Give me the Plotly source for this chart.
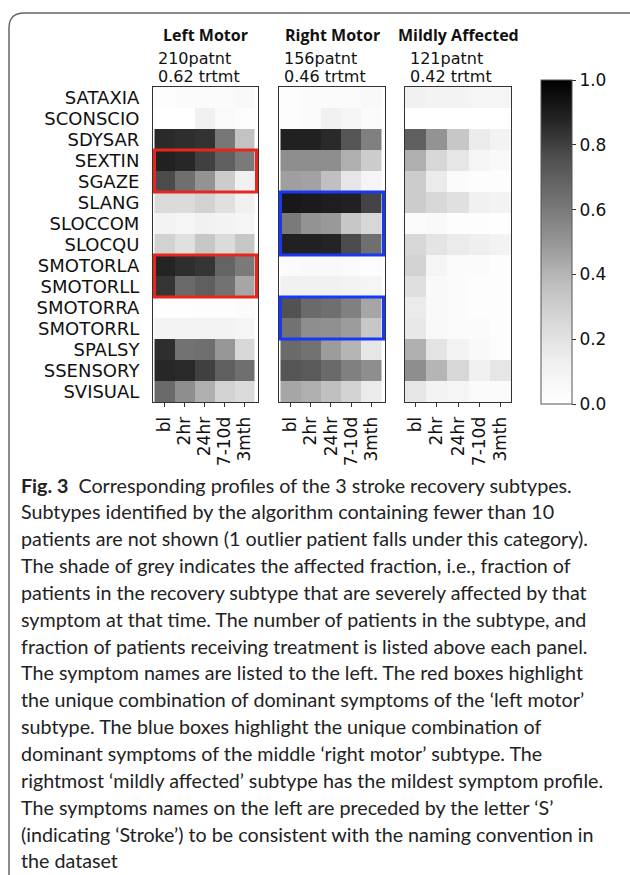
import plotly.graph_objects as go

W, H = 630, 875

symptoms = ["SATAXIA", "SCONSCIO", "SDYSAR", "SEXTIN", "SGAZE", "SLANG", "SLOCCOM",
            "SLOCQU", "SMOTORLA", "SMOTORLL", "SMOTORRA", "SMOTORRL", "SPALSY",
            "SSENSORY", "SVISUAL"]
timepoints = ["bl", "2hr", "24hr", "7-10d", "3mth"]

panel_titles = ["Left Motor", "Right Motor", "Mildly Affected"]
n_patients = [210, 156, 121]
frac_treated = [0.62, 0.46, 0.42]

left_motor = [
    [0.02, 0.03, 0.03, 0.03, 0.05],
    [0.00, 0.00, 0.12, 0.04, 0.02],
    [0.86, 0.85, 0.84, 0.61, 0.35],
    [0.89, 0.87, 0.80, 0.70, 0.60],
    [0.77, 0.64, 0.51, 0.31, 0.12],
    [0.24, 0.24, 0.28, 0.21, 0.12],
    [0.10, 0.08, 0.12, 0.10, 0.08],
    [0.28, 0.21, 0.33, 0.24, 0.33],
    [0.88, 0.85, 0.83, 0.68, 0.60],
    [0.83, 0.66, 0.70, 0.63, 0.45],
    [0.01, 0.01, 0.02, 0.02, 0.03],
    [0.10, 0.10, 0.10, 0.10, 0.08],
    [0.85, 0.63, 0.64, 0.50, 0.26],
    [0.87, 0.86, 0.80, 0.70, 0.64],
    [0.66, 0.53, 0.42, 0.28, 0.24],
]
right_motor = [
    [0.02, 0.03, 0.03, 0.03, 0.05],
    [0.02, 0.03, 0.12, 0.08, 0.03],
    [0.89, 0.89, 0.86, 0.74, 0.58],
    [0.53, 0.53, 0.53, 0.42, 0.31],
    [0.47, 0.46, 0.36, 0.18, 0.08],
    [0.92, 0.91, 0.90, 0.89, 0.79],
    [0.60, 0.51, 0.49, 0.33, 0.26],
    [0.89, 0.89, 0.88, 0.77, 0.64],
    [0.03, 0.05, 0.05, 0.03, 0.02],
    [0.12, 0.12, 0.12, 0.10, 0.08],
    [0.75, 0.66, 0.64, 0.58, 0.45],
    [0.63, 0.53, 0.52, 0.48, 0.33],
    [0.66, 0.63, 0.48, 0.40, 0.18],
    [0.74, 0.72, 0.66, 0.58, 0.53],
    [0.45, 0.42, 0.36, 0.28, 0.15],
]
mildly_affected = [
    [0.12, 0.10, 0.10, 0.08, 0.08],
    [0.00, 0.00, 0.00, 0.00, 0.00],
    [0.70, 0.51, 0.33, 0.15, 0.10],
    [0.42, 0.26, 0.18, 0.08, 0.05],
    [0.31, 0.15, 0.03, 0.02, 0.02],
    [0.31, 0.26, 0.21, 0.12, 0.10],
    [0.03, 0.05, 0.02, 0.02, 0.01],
    [0.26, 0.19, 0.15, 0.13, 0.10],
    [0.28, 0.08, 0.03, 0.03, 0.02],
    [0.22, 0.05, 0.03, 0.02, 0.02],
    [0.15, 0.05, 0.03, 0.02, 0.02],
    [0.17, 0.05, 0.03, 0.03, 0.02],
    [0.42, 0.19, 0.10, 0.05, 0.02],
    [0.53, 0.40, 0.26, 0.12, 0.18],
    [0.18, 0.10, 0.08, 0.03, 0.03],
]
panels = [left_motor, right_motor, mildly_affected]

red_boxes = [("SEXTIN", "SGAZE"), ("SMOTORLA", "SMOTORLL")]
blue_boxes = [("SLANG", "SLOCQU"), ("SMOTORRA", "SMOTORRL")]

caption_lines = [
    "<b>Fig. 3</b>  Corresponding profiles of the 3 stroke recovery subtypes.",
    "Subtypes identified by the algorithm containing fewer than 10",
    "patients are not shown (1 outlier patient falls under this category).",
    "The shade of grey indicates the affected fraction, i.e., fraction of",
    "patients in the recovery subtype that are severely affected by that",
    "symptom at that time. The number of patients in the subtype, and",
    "fraction of patients receiving treatment is listed above each panel.",
    "The symptom names are listed to the left. The red boxes highlight",
    "the unique combination of dominant symptoms of the \u2018left motor\u2019",
    "subtype. The blue boxes highlight the unique combination of",
    "dominant symptoms of the middle \u2018right motor\u2019 subtype. The",
    "rightmost \u2018mildly affected\u2019 subtype has the mildest symptom profile.",
    "The symptoms names on the left are preceded by the letter \u2018S\u2019",
    "(indicating \u2018Stroke\u2019) to be consistent with the naming convention in",
    "the dataset",
]

# matplotlib "Greys"
greys = [[0.0, "#ffffff"], [0.125, "#f0f0f0"], [0.25, "#d9d9d9"], [0.375, "#bdbdbd"],
         [0.5, "#969696"], [0.625, "#737373"], [0.75, "#525252"], [0.875, "#252525"],
         [1.0, "#000000"]]

def px(x):
    return x / W

def py(y):
    return 1 - y / H

panel_x = [(153, 258), (279, 385), (405, 511)]
panel_top, panel_bot = 87, 402

fig = go.Figure()
layout = dict(
    width=W, height=H, margin=dict(l=0, r=0, t=0, b=0),
    paper_bgcolor="white", plot_bgcolor="white", showlegend=False,
    font=dict(family="DejaVu Sans", color="black"),
    coloraxis=dict(
        colorscale=greys, cmin=0, cmax=1,
        colorbar=dict(
            thicknessmode="pixels", thickness=31, lenmode="pixels", len=324,
            x=px(541), xanchor="left", y=py(80), yanchor="top", xpad=0, ypad=0,
            outlinewidth=1, outlinecolor="#555555",
            ticks="outside", ticklen=4, tickcolor="#333333",
            tickvals=[0, 0.2, 0.4, 0.6, 0.8, 1.0], tickformat=".1f",
            tickfont=dict(family="DejaVu Sans", size=17, color="#111111"),
        ),
    ),
)

for i, z in enumerate(panels):
    sfx = "" if i == 0 else str(i + 1)
    fig.add_trace(go.Heatmap(z=z, x=timepoints, y=symptoms, coloraxis="coloraxis",
                             xaxis="x" + sfx, yaxis="y" + sfx, hoverinfo="skip"))
    x0, x1 = panel_x[i]
    layout["xaxis" + sfx] = dict(
        domain=[px(x0), px(x1)], anchor="y" + sfx, showline=True, mirror=True,
        linecolor="#333333", linewidth=1, ticks="outside", ticklen=4,
        tickcolor="#333333", tickangle=-90, showgrid=False, zeroline=False,
        tickmode="array", tickvals=timepoints, ticktext=timepoints,
        tickfont=dict(family="DejaVu Sans", size=17, color="#111111"),
        ticklabelstandoff=3,
    )
    layout["yaxis" + sfx] = dict(
        domain=[py(panel_bot), py(panel_top)], anchor="x" + sfx, showline=True,
        mirror=True, linecolor="#333333", linewidth=1, autorange="reversed",
        showgrid=False, zeroline=False, ticks="", showticklabels=(i == 0),
        tickmode="array", tickvals=symptoms, ticktext=symptoms,
        tickfont=dict(family="DejaVu Sans", size=18, color="#111111"),
        ticklabelstandoff=9,
    )

fig.update_layout(**layout)

# highlight boxes
def add_box(xref, yref, r0, r1, color):
    fig.add_shape(type="rect", xref=xref, yref=yref,
                  x0=-0.5, x1=len(timepoints) - 0.4,
                  y0=symptoms.index(r0) - 0.5, y1=symptoms.index(r1) + 0.5,
                  line=dict(color=color, width=3), fillcolor="rgba(0,0,0,0)")

for r0, r1 in red_boxes:
    add_box("x", "y", r0, r1, "#e8261e")
for r0, r1 in blue_boxes:
    add_box("x2", "y2", r0, r1, "#1738f5")

# panel headers
for i in range(3):
    x0, x1 = panel_x[i]
    fig.add_annotation(text="<b>%s</b>" % panel_titles[i], xref="paper", yref="paper",
                       x=px((x0 + x1) / 2), y=py(35), xanchor="center", yanchor="middle",
                       showarrow=False, font=dict(family="Open Sans", size=16, color="#111111"))
    fig.add_annotation(text="%dpatnt" % n_patients[i], xref="paper", yref="paper",
                       x=px(x0 + 3), y=py(59), xanchor="left", yanchor="middle",
                       showarrow=False, font=dict(family="DejaVu Sans", size=16, color="#111111"))
    fig.add_annotation(text="%.2f trtmt" % frac_treated[i], xref="paper", yref="paper",
                       x=px(x0 + 3), y=py(77), xanchor="left", yanchor="middle",
                       showarrow=False, font=dict(family="DejaVu Sans", size=16, color="#111111"))

# caption
for k, line in enumerate(caption_lines):
    fig.add_annotation(text=line, xref="paper", yref="paper",
                       x=px(19), y=py(485 + 26.85 * k), xanchor="left", yanchor="middle",
                       showarrow=False,
                       font=dict(family="Lato", size=19.7, color="#222222"))

# outer frame (rounded)
r = 15
x0f, y0f, x1f, y1f = 9, 13, 650, 890
path = ("M %f,%f L %f,%f Q %f,%f %f,%f L %f,%f Q %f,%f %f,%f L %f,%f" % (
    px(x1f), py(y0f), px(x0f + r), py(y0f), px(x0f), py(y0f), px(x0f), py(y0f + r),
    px(x0f), py(y1f - r), px(x0f), py(y1f), px(x0f + r), py(y1f), px(x1f), py(y1f)))
fig.add_shape(type="path", xref="paper", yref="paper", path=path,
              line=dict(color="#666666", width=1.5))

fig.write_html("out.html", config={"displayModeBar": False},
               post_script="document.body.style.margin='0';document.body.style.overflow='hidden';")
